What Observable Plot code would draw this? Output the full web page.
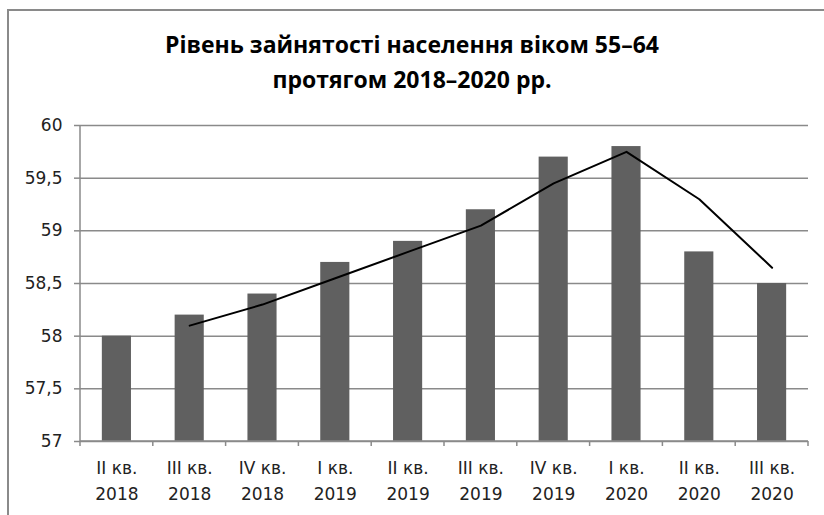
<!DOCTYPE html>
<html>
<head>
<meta charset="utf-8">
<script src="https://cdn.jsdelivr.net/npm/d3@7"></script>
<script src="https://cdn.jsdelivr.net/npm/@observablehq/plot@0.6"></script>
<style>
  html, body { margin: 0; padding: 0; background: #fff; }
  #wrap { position: relative; width: 824px; height: 515px; overflow: hidden; background: #fff; }
  #frame { position: absolute; left: 7px; top: 9px; width: 900px; height: 600px; border-left: 2px solid #8a8a8a; border-top: 2px solid #8a8a8a; }
  #title { position: relative; height: 105px; box-sizing: border-box; padding-top: 27px; text-align: center;
           font-family: "Open Sans", sans-serif; font-weight: bold; font-size: 23px; line-height: 35px; color: #000; }
  #chart { position: relative; }
</style>
</head>
<body>
<div id="wrap">
  <div id="frame"></div>
  <div id="title">Рівень зайнятості населення віком 55–64<br>протягом 2018–2020 рр.</div>
  <div id="chart"></div>
</div>
<script>
const quarters = ["II кв.", "III кв.", "IV кв.", "I кв.", "II кв.", "III кв.", "IV кв.", "I кв.", "II кв.", "III кв."];
const years = ["2018", "2018", "2018", "2019", "2019", "2019", "2019", "2020", "2020", "2020"];
const values = [58.0, 58.2, 58.4, 58.7, 58.9, 59.2, 59.7, 59.8, 58.8, 58.5];
// trend line, starting at the 2nd quarter listed
const trend = [null, 58.1, 58.3, 58.55, 58.8, 59.05, 59.45, 59.75, 59.3, 58.65];
const yTicks = [57, 57.5, 58, 58.5, 59, 59.5, 60];

const categories = quarters.map((q, i) => q + "\n" + years[i]);
const barData = categories.map((c, i) => ({c, v: values[i]}));
const lineData = categories.map((c, i) => ({c, v: trend[i]})).filter(d => d.v != null);

const gray = "#8a8a8a";

function axisDecor(index, scales, vals, dims) {
  const left = dims.marginLeft, right = dims.width - dims.marginRight;
  const top = dims.marginTop, bottom = dims.height - dims.marginBottom;
  const n = categories.length;
  const g = d3.create("svg:g").attr("stroke", gray).attr("stroke-width", 1.5);
  g.append("line").attr("x1", left).attr("x2", left).attr("y1", top).attr("y2", bottom + 0.5);
  g.append("line").attr("x1", left).attr("x2", right).attr("y1", bottom).attr("y2", bottom);
  for (let i = 0; i <= n; i++) {
    const x = left + i * (right - left) / n;
    g.append("line").attr("x1", x).attr("x2", x).attr("y1", bottom).attr("y2", bottom + 5);
  }
  return g.node();
}

const chart = Plot.plot({
  width: 824,
  height: 410,
  marginTop: 20,
  marginBottom: 74,
  marginLeft: 80,
  marginRight: 16,
  style: {fontFamily: "'DejaVu Sans', sans-serif", fontSize: "17px", color: "#222", background: "transparent"},
  x: {domain: categories, paddingInner: 0.6, paddingOuter: 0.3, round: false, label: null},
  y: {domain: [57, 60], label: null},
  marks: [
    Plot.gridY(yTicks, {stroke: gray, strokeOpacity: 1, strokeWidth: 1.5}),
    Plot.barY(barData, {x: "c", y1: 57, y2: "v", fill: "#606060"}),
    Plot.line(lineData, {x: "c", y: "v", stroke: "#000", strokeWidth: 2}),
    axisDecor,
    Plot.axisY(yTicks, {tickFormat: d => String(d).replace(".", ","), tickSize: 6, tickPadding: 12, stroke: gray, strokeWidth: 1.5, fontSize: 17, fill: "#222"}),
    Plot.axisX({tickSize: 0, tickPadding: 14, fontSize: 17, fill: "#222", lineHeight: 1.53})
  ]
});
document.getElementById("chart").appendChild(chart);
</script>
</body>
</html>
